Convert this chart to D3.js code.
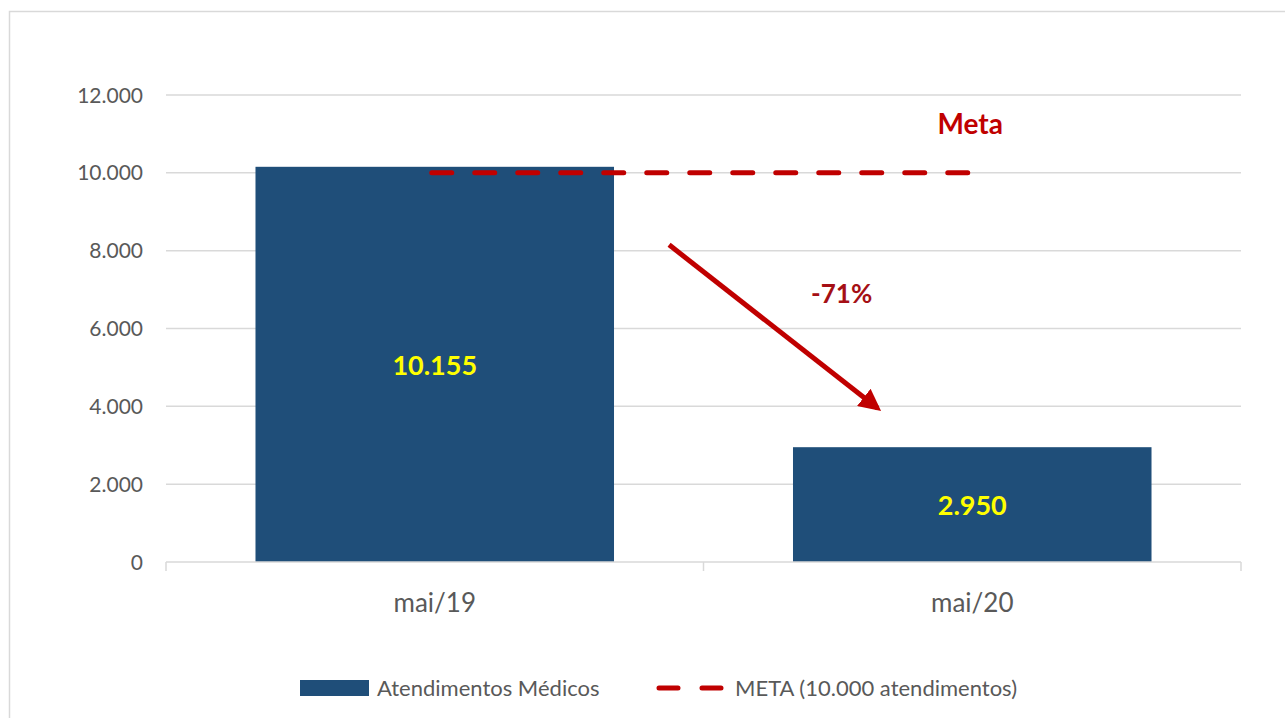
<!DOCTYPE html>
<html>
<head>
<meta charset="utf-8">
<script src="https://cdn.jsdelivr.net/npm/d3@7"></script>
<style>
  body { margin: 0; background: #fff; }
  text { font-family: Lato, "Open Sans", sans-serif; }
</style>
</head>
<body>
<script>
// data
const categories = ['mai/19', 'mai/20'];
const values = [10155, 2950];
const valueLabels = ['10.155', '2.950'];
const metaValue = 10000;
const yTicks = [0, 2000, 4000, 6000, 8000, 10000, 12000];
const seriesName = 'Atendimentos Médicos';
const metaName = 'META (10.000 atendimentos)';
const changeLabel = '-71%';
// arrow: position between bar centres (0 = first, 1 = second) and value
const arrowFrom = [0.436, 8150];
const arrowTo = [0.824, 3950];

const width = 1285, height = 718;
const margin = {top: 95, right: 44, bottom: 156, left: 166};

const svg = d3.select('body').append('svg')
  .attr('width', width)
  .attr('height', height);

// outer chart border
svg.append('rect')
  .attr('x', 9.5).attr('y', 11.5)
  .attr('width', width + 20).attr('height', height + 20)
  .attr('fill', 'none')
  .attr('stroke', '#d9d9d9')
  .attr('stroke-width', 1.5);

const x = d3.scaleBand()
  .domain(categories)
  .range([margin.left, width - margin.right])
  .paddingInner(0.333)
  .paddingOuter(0.1665);

const y = d3.scaleLinear()
  .domain([0, 12000])
  .range([height - margin.bottom, margin.top]);

const mid = d3.scaleLinear()
  .domain([0, 1])
  .range([x(categories[0]) + x.bandwidth() / 2, x(categories[1]) + x.bandwidth() / 2]);

const fmt = d3.formatLocale({decimal: ',', thousands: '.', grouping: [3], currency: ['R$', '']}).format(',');

// gridlines
svg.append('g')
  .selectAll('line').data(yTicks.filter(d => d > 0))
  .enter().append('line')
  .attr('x1', margin.left).attr('x2', width - margin.right)
  .attr('y1', d => y(d)).attr('y2', d => y(d))
  .attr('stroke', '#d9d9d9').attr('stroke-width', 1.5);

// y axis labels
svg.append('g')
  .selectAll('text').data(yTicks)
  .enter().append('text')
  .attr('x', 143)
  .attr('y', d => y(d))
  .attr('dy', '0.36em')
  .attr('text-anchor', 'end')
  .attr('font-size', 21)
  .attr('fill', '#595959')
  .text(d => fmt(d));

// bars
svg.append('g')
  .selectAll('rect').data(values)
  .enter().append('rect')
  .attr('x', (d, i) => x(categories[i]))
  .attr('y', d => y(d))
  .attr('width', x.bandwidth())
  .attr('height', d => y(0) - y(d))
  .attr('fill', '#1f4e79');

// x axis baseline + ticks
const xAxis = svg.append('g');
xAxis.append('line')
  .attr('x1', margin.left).attr('x2', width - margin.right)
  .attr('y1', y(0)).attr('y2', y(0))
  .attr('stroke', '#d9d9d9').attr('stroke-width', 1.5);
const boundaries = [margin.left, (x(categories[0]) + x.bandwidth() + x(categories[1])) / 2, width - margin.right];
xAxis.selectAll('.tick').data(boundaries)
  .enter().append('line')
  .attr('x1', d => d).attr('x2', d => d)
  .attr('y1', y(0)).attr('y2', y(0) + 9)
  .attr('stroke', '#d9d9d9').attr('stroke-width', 1.5);
xAxis.selectAll('text').data(categories)
  .enter().append('text')
  .attr('x', d => x(d) + x.bandwidth() / 2)
  .attr('y', y(0) + 50)
  .attr('text-anchor', 'middle')
  .attr('font-size', 26)
  .attr('fill', '#595959')
  .text(d => d);

// value labels
svg.append('g')
  .selectAll('text').data(values)
  .enter().append('text')
  .attr('x', (d, i) => x(categories[i]) + x.bandwidth() / 2)
  .attr('y', d => (y(d) + y(0)) / 2)
  .attr('dy', '0.4em')
  .attr('text-anchor', 'middle')
  .attr('font-size', 27)
  .attr('font-weight', 'bold')
  .attr('fill', '#ffff00')
  .text((d, i) => valueLabels[i]);

// meta line
svg.append('line')
  .attr('x1', mid(0) - 3).attr('x2', mid(1) - 3)
  .attr('y1', y(metaValue)).attr('y2', y(metaValue))
  .attr('stroke', '#c00000')
  .attr('stroke-width', 5)
  .attr('stroke-linecap', 'round')
  .attr('stroke-dasharray', '20 23');

svg.append('text')
  .attr('x', mid(1) - 2)
  .attr('y', y(metaValue) - 39)
  .attr('text-anchor', 'middle')
  .attr('font-size', 28)
  .attr('font-weight', 'bold')
  .attr('fill', '#c00000')
  .text('Meta');

// arrow
svg.append('defs').append('marker')
  .attr('id', 'head')
  .attr('viewBox', '0 0 10 10')
  .attr('refX', 8).attr('refY', 5)
  .attr('markerWidth', 4.4).attr('markerHeight', 4.4)
  .attr('orient', 'auto')
  .append('path')
  .attr('d', 'M0,0 L10,5 L0,10 Z')
  .attr('fill', '#c00000');

svg.append('line')
  .attr('x1', mid(arrowFrom[0])).attr('y1', y(arrowFrom[1]))
  .attr('x2', mid(arrowTo[0])).attr('y2', y(arrowTo[1]))
  .attr('stroke', '#c00000')
  .attr('stroke-width', 5)
  .attr('marker-end', 'url(#head)');

svg.append('text')
  .attr('x', mid(0.757))
  .attr('y', y(6650))
  .attr('text-anchor', 'middle')
  .attr('font-size', 26)
  .attr('font-weight', 'bold')
  .attr('fill', '#a50f15')
  .text(changeLabel);

// legend
const legend = svg.append('g').attr('transform', 'translate(0,688)');
legend.append('rect')
  .attr('x', 300).attr('y', -8)
  .attr('width', 69).attr('height', 16)
  .attr('fill', '#1f4e79');
legend.append('text')
  .attr('x', 377).attr('y', 0).attr('dy', '0.36em')
  .attr('font-size', 22).attr('fill', '#595959')
  .text(seriesName);
legend.append('line')
  .attr('x1', 659).attr('x2', 721)
  .attr('y1', 0).attr('y2', 0)
  .attr('stroke', '#c00000')
  .attr('stroke-width', 5)
  .attr('stroke-linecap', 'round')
  .attr('stroke-dasharray', '19 24');
legend.append('text')
  .attr('x', 735).attr('y', 0).attr('dy', '0.36em')
  .attr('font-size', 22).attr('fill', '#595959')
  .text(metaName);
</script>
</body>
</html>
